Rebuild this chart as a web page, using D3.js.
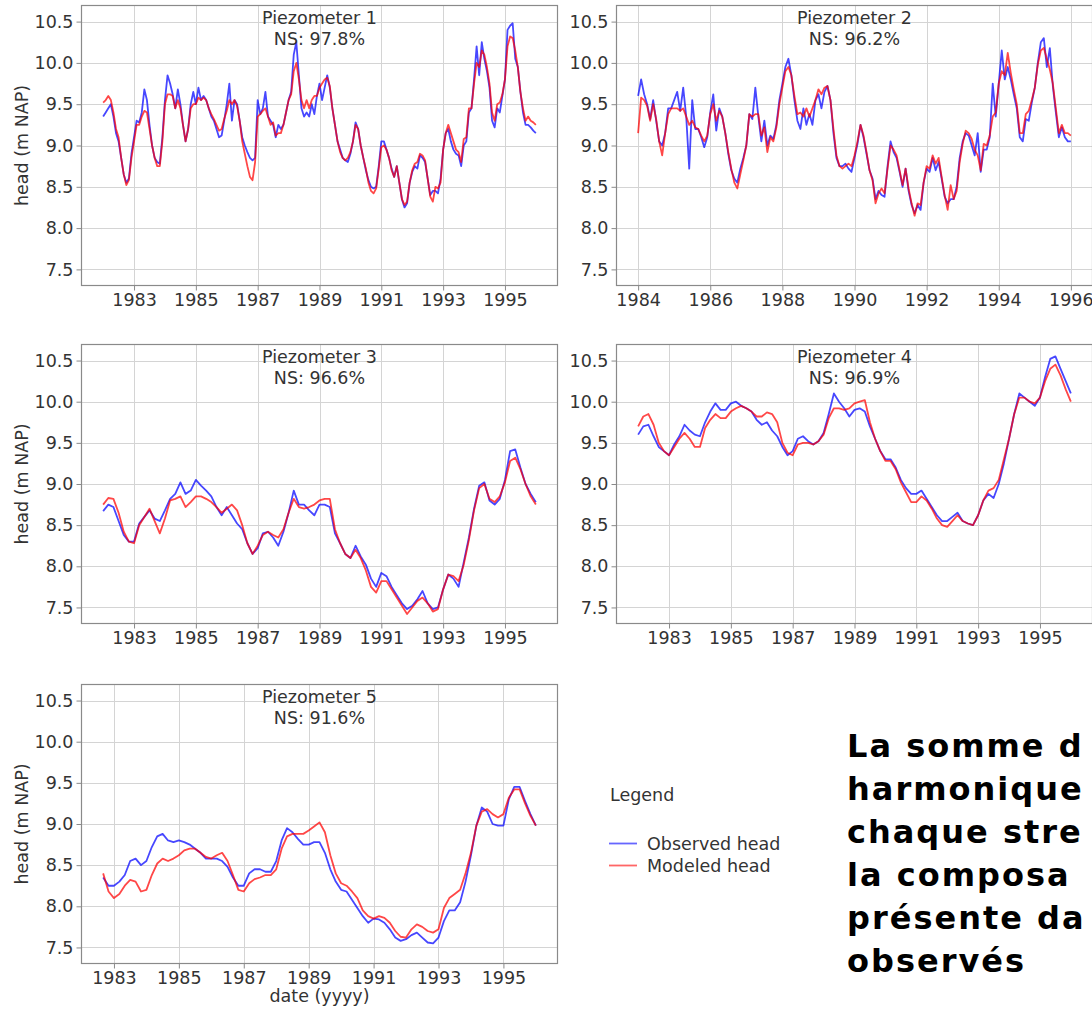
<!DOCTYPE html>
<html>
<head>
<meta charset="utf-8">
<script src="https://cdn.jsdelivr.net/npm/d3@7"></script>
<style>
  html, body { margin: 0; padding: 0; background: #fff; overflow: hidden; }
  svg { display: block; }
  text { font-family: "DejaVu Sans", sans-serif; fill: #333; }
</style>
</head>
<body>
<svg id="chart" width="1092" height="1009"></svg>
<script>
// ---- tick labels ----
const yTicks = [7.5, 8.0, 8.5, 9.0, 9.5, 10.0, 10.5];
const oddYears = [1983, 1985, 1987, 1989, 1991, 1993, 1995];
const evenYears = [1984, 1986, 1988, 1990, 1992, 1994, 1996];

// ---- Piezometer 1: monthly, Jan 1982 .. Jan 1996 ----
const p1Start = 1982, p1Step = 1 / 12;
const p1Obs = [
  9.35, 9.40, 9.45, 9.50, 9.35, 9.15, 9.05, 8.85, 8.65, 8.55, 8.60, 8.90,
  9.10, 9.30, 9.28, 9.40, 9.68, 9.55, 9.25, 9.00, 8.85, 8.80, 8.78, 9.10,
  9.55, 9.85, 9.75, 9.62, 9.45, 9.68, 9.50, 9.25, 9.05, 9.20, 9.50, 9.65,
  9.50, 9.70, 9.55, 9.60, 9.55, 9.45, 9.35, 9.30, 9.20, 9.10, 9.12, 9.30,
  9.50, 9.75, 9.30, 9.55, 9.50, 9.30, 9.10, 9.00, 8.92, 8.85, 8.82, 8.85,
  9.55, 9.38, 9.45, 9.65, 9.35, 9.30, 9.25, 9.10, 9.25, 9.20, 9.25, 9.40,
  9.55, 9.65, 10.10, 10.25, 9.85, 9.45, 9.35, 9.40, 9.35, 9.50, 9.38, 9.60,
  9.75, 9.55, 9.70, 9.85, 9.70, 9.45, 9.25, 9.05, 8.95, 8.85, 8.82, 8.80,
  8.90, 9.05, 9.28, 9.20, 9.00, 8.85, 8.70, 8.58, 8.50, 8.48, 8.50, 8.75,
  9.05, 9.05, 8.95, 8.85, 8.72, 8.62, 8.75, 8.55, 8.35, 8.25, 8.30, 8.55,
  8.68, 8.75, 8.72, 8.88, 8.85, 8.80, 8.60, 8.40, 8.45, 8.45, 8.42, 8.60,
  8.95, 9.15, 9.20, 9.05, 8.95, 8.90, 8.88, 8.75, 9.00, 9.05, 9.40, 9.45,
  9.80, 10.20, 9.85, 10.25, 10.05, 9.90, 9.70, 9.30, 9.22, 9.45, 9.40, 9.60,
  9.80, 10.40, 10.45, 10.48, 10.05, 9.95, 9.65, 9.40, 9.25, 9.25, 9.22, 9.18,
  9.15
];
const p1Mod = [
  9.52, 9.55, 9.60, 9.55, 9.40, 9.20, 9.10, 8.85, 8.65, 8.52, 8.58, 8.85,
  9.05, 9.25, 9.25, 9.35, 9.42, 9.40, 9.20, 9.00, 8.85, 8.75, 8.75, 9.05,
  9.50, 9.62, 9.62, 9.60, 9.45, 9.55, 9.45, 9.25, 9.05, 9.20, 9.45, 9.50,
  9.50, 9.58, 9.55, 9.58, 9.55, 9.45, 9.38, 9.32, 9.25, 9.18, 9.20, 9.32,
  9.42, 9.55, 9.50, 9.55, 9.48, 9.30, 9.05, 8.90, 8.75, 8.62, 8.58, 8.80,
  9.35, 9.38, 9.42, 9.45, 9.35, 9.25, 9.28, 9.12, 9.15, 9.15, 9.25, 9.40,
  9.55, 9.62, 9.90, 10.00, 9.80, 9.55, 9.45, 9.55, 9.45, 9.55, 9.60, 9.60,
  9.70, 9.75, 9.80, 9.82, 9.72, 9.45, 9.25, 9.05, 8.92, 8.85, 8.82, 8.85,
  8.92, 9.05, 9.25, 9.20, 9.00, 8.85, 8.72, 8.55, 8.45, 8.42, 8.48, 8.72,
  8.98, 9.00, 8.95, 8.85, 8.70, 8.62, 8.75, 8.55, 8.35, 8.28, 8.32, 8.55,
  8.70, 8.78, 8.80, 8.90, 8.88, 8.82, 8.60, 8.38, 8.32, 8.50, 8.48, 8.55,
  8.95, 9.15, 9.25, 9.15, 9.05, 8.95, 8.92, 8.80, 9.08, 9.10, 9.45, 9.45,
  9.75, 10.00, 9.95, 10.15, 10.10, 9.95, 9.75, 9.40, 9.30, 9.50, 9.52, 9.62,
  9.80, 10.20, 10.32, 10.30, 10.15, 9.95, 9.65, 9.45, 9.30, 9.35, 9.30, 9.28,
  9.25
];

// ---- Piezometer 2: monthly, Jan 1984 .. Jan 1996 ----
const p2Start = 1984, p2Step = 1 / 12;
const p2Obs = [
  9.60, 9.80, 9.62, 9.50, 9.32, 9.55, 9.30, 9.05, 9.00, 9.15, 9.45, 9.45,
  9.55, 9.65, 9.42, 9.70, 9.35, 8.72, 9.55, 9.20, 9.20, 9.10, 8.98, 9.10,
  9.40, 9.62, 9.18, 9.45, 9.35, 9.15, 8.90, 8.70, 8.60, 8.55, 8.72, 8.85,
  9.00, 9.38, 9.32, 9.70, 9.35, 9.05, 9.30, 9.00, 9.12, 9.08, 9.25, 9.55,
  9.75, 9.95, 10.05, 9.85, 9.55, 9.30, 9.20, 9.45, 9.25, 9.38, 9.25, 9.55,
  9.62, 9.45, 9.65, 9.72, 9.55, 9.15, 8.85, 8.75, 8.75, 8.78, 8.72, 8.68,
  8.85, 9.02, 9.25, 9.10, 8.90, 8.70, 8.60, 8.35, 8.45, 8.40, 8.38, 8.75,
  9.05, 8.92, 8.85, 8.68, 8.50, 8.72, 8.45, 8.28, 8.18, 8.28, 8.22, 8.55,
  8.72, 8.68, 8.85, 8.70, 8.80, 8.60, 8.38, 8.30, 8.35, 8.35, 8.50, 8.85,
  9.05, 9.15, 9.12, 9.00, 8.88, 9.15, 8.68, 8.95, 8.95, 9.10, 9.75, 9.35,
  9.75, 10.15, 9.80, 9.95, 9.80, 9.62, 9.45, 9.10, 9.05, 9.32, 9.30, 9.52,
  9.70, 10.00, 10.25, 10.30, 9.95, 10.18, 9.72, 9.40, 9.10, 9.22, 9.10, 9.05,
  9.05
];
const p2Mod = [
  9.15, 9.58, 9.55, 9.48, 9.30, 9.50, 9.32, 9.05, 8.88, 9.15, 9.38, 9.45,
  9.45, 9.45, 9.42, 9.45, 9.35, 9.25, 9.30, 9.22, 9.20, 9.12, 9.05, 9.12,
  9.38, 9.50, 9.30, 9.42, 9.35, 9.15, 8.92, 8.72, 8.55, 8.48, 8.65, 8.82,
  9.00, 9.38, 9.35, 9.38, 9.38, 9.12, 9.22, 8.92, 9.10, 9.05, 9.22, 9.50,
  9.70, 9.90, 9.95, 9.85, 9.60, 9.38, 9.40, 9.35, 9.45, 9.35, 9.45, 9.55,
  9.68, 9.62, 9.70, 9.72, 9.55, 9.20, 8.88, 8.75, 8.72, 8.75, 8.78, 8.75,
  8.88, 9.05, 9.25, 9.12, 8.92, 8.70, 8.58, 8.30, 8.42, 8.48, 8.42, 8.72,
  9.00, 8.95, 8.88, 8.70, 8.52, 8.72, 8.48, 8.30, 8.15, 8.30, 8.28, 8.55,
  8.75, 8.72, 8.88, 8.78, 8.85, 8.62, 8.40, 8.22, 8.52, 8.35, 8.45, 8.80,
  9.02, 9.18, 9.15, 9.08, 8.95, 8.88, 8.70, 9.02, 9.00, 9.12, 9.35, 9.40,
  9.75, 9.90, 9.85, 10.12, 9.88, 9.68, 9.50, 9.15, 9.15, 9.38, 9.42, 9.55,
  9.70, 9.98, 10.15, 10.18, 10.05, 9.92, 9.75, 9.45, 9.15, 9.25, 9.15, 9.15,
  9.12
];

// ---- Piezometer 3: every two months, Jan 1982 .. Jan 1996 ----
const p3Start = 1982, p3Step = 1 / 6;
const p3Obs = [
  8.67, 8.75, 8.72, 8.55, 8.38, 8.30, 8.30, 8.52, 8.60, 8.68, 8.58, 8.55,
  8.68, 8.82, 8.88, 9.02, 8.88, 8.92, 9.05, 8.98, 8.92, 8.85, 8.72, 8.62,
  8.72, 8.62, 8.52, 8.45, 8.28, 8.15, 8.22, 8.40, 8.42, 8.35, 8.25, 8.42,
  8.65, 8.92, 8.75, 8.75, 8.68, 8.62, 8.75, 8.75, 8.72, 8.40, 8.28, 8.15,
  8.10, 8.25, 8.12, 8.02, 7.85, 7.75, 7.92, 7.88, 7.75, 7.65, 7.55, 7.48,
  7.52, 7.60, 7.70, 7.55, 7.48, 7.50, 7.72, 7.90, 7.85, 7.75, 8.05, 8.35,
  8.70, 8.98, 9.02, 8.80, 8.75, 8.82, 9.05, 9.40, 9.42, 9.20, 9.00, 8.88,
  8.78
];
const p3Mod = [
  8.75, 8.83, 8.82, 8.65, 8.42, 8.30, 8.28, 8.50, 8.60, 8.70, 8.55, 8.40,
  8.58, 8.80, 8.82, 8.85, 8.72, 8.78, 8.85, 8.85, 8.82, 8.78, 8.72, 8.65,
  8.70, 8.75, 8.68, 8.50, 8.28, 8.15, 8.25, 8.38, 8.42, 8.38, 8.35, 8.45,
  8.65, 8.82, 8.72, 8.70, 8.72, 8.75, 8.80, 8.82, 8.82, 8.45, 8.28, 8.15,
  8.10, 8.20, 8.10, 7.95, 7.75, 7.68, 7.82, 7.82, 7.72, 7.62, 7.52, 7.42,
  7.50, 7.58, 7.62, 7.55, 7.45, 7.48, 7.72, 7.90, 7.88, 7.82, 8.02, 8.32,
  8.68, 8.95, 9.00, 8.82, 8.78, 8.85, 9.02, 9.28, 9.32, 9.18, 9.00, 8.85,
  8.75
];

// ---- Piezometer 4: every two months, Jan 1982 .. Jan 1996 ----
const p4Start = 1982, p4Step = 1 / 6;
const p4Obs = [
  9.60, 9.70, 9.72, 9.58, 9.45, 9.40, 9.35, 9.48, 9.58, 9.72, 9.65, 9.60,
  9.58, 9.75, 9.88, 9.98, 9.90, 9.90, 9.98, 10.00, 9.95, 9.92, 9.88, 9.78,
  9.72, 9.75, 9.65, 9.58, 9.45, 9.35, 9.40, 9.55, 9.58, 9.52, 9.48, 9.52,
  9.62, 9.85, 10.10, 10.00, 9.92, 9.82, 9.90, 9.92, 9.88, 9.70, 9.55, 9.40,
  9.30, 9.30, 9.20, 9.05, 8.95, 8.88, 8.88, 8.92, 8.82, 8.72, 8.62, 8.55,
  8.55, 8.60, 8.65, 8.55, 8.52, 8.50, 8.62, 8.80, 8.88, 8.83, 9.00, 9.25,
  9.55, 9.85, 10.10, 10.05, 10.00, 9.95, 10.05, 10.30, 10.52, 10.55, 10.40, 10.25,
  10.10
];
const p4Mod = [
  9.70, 9.82, 9.85, 9.72, 9.50, 9.40, 9.35, 9.45, 9.55, 9.62, 9.55, 9.45,
  9.45, 9.68, 9.78, 9.85, 9.80, 9.80, 9.88, 9.92, 9.95, 9.92, 9.88, 9.82,
  9.82, 9.87, 9.85, 9.75, 9.50, 9.38, 9.35, 9.48, 9.50, 9.50, 9.48, 9.52,
  9.60, 9.80, 9.92, 9.92, 9.90, 9.92, 9.98, 10.00, 10.02, 9.75, 9.55, 9.40,
  9.28, 9.28, 9.18, 9.02, 8.90, 8.78, 8.78, 8.85, 8.80, 8.70, 8.58, 8.50,
  8.48, 8.55, 8.62, 8.55, 8.52, 8.50, 8.62, 8.80, 8.92, 8.95, 9.05, 9.30,
  9.55, 9.85, 10.05, 10.05, 10.00, 9.98, 10.05, 10.25, 10.40, 10.45, 10.32, 10.15,
  10.00
];

// ---- Piezometer 5: every two months, Sep 1982 .. Jan 1996 ----
const p5Start = 1982 + 8 / 12, p5Step = 1 / 6;
const p5Obs = [
  8.35, 8.25, 8.25, 8.30, 8.38, 8.55, 8.58, 8.50, 8.55, 8.72, 8.85, 8.88,
  8.80, 8.78, 8.80, 8.78, 8.75, 8.70, 8.65, 8.58, 8.58, 8.58, 8.55, 8.48,
  8.35, 8.25, 8.25, 8.40, 8.45, 8.45, 8.42, 8.42, 8.55, 8.80, 8.95, 8.90,
  8.82, 8.75, 8.75, 8.78, 8.78, 8.65, 8.45, 8.30, 8.20, 8.18, 8.08, 7.98,
  7.88, 7.80, 7.85, 7.84, 7.80, 7.72, 7.62, 7.58, 7.60, 7.65, 7.68, 7.62,
  7.56, 7.55, 7.62, 7.82, 7.95, 7.95, 8.05, 8.30, 8.62, 8.98, 9.20, 9.15,
  9.00, 8.98, 8.98, 9.30, 9.45, 9.45, 9.28, 9.12, 8.98
];
const p5Mod = [
  8.40, 8.18, 8.10, 8.15, 8.25, 8.32, 8.30, 8.18, 8.20, 8.38, 8.52, 8.58,
  8.55, 8.58, 8.62, 8.68, 8.70, 8.70, 8.65, 8.60, 8.58, 8.62, 8.65, 8.55,
  8.38, 8.20, 8.18, 8.28, 8.33, 8.35, 8.38, 8.38, 8.45, 8.70, 8.85, 8.88,
  8.88, 8.88, 8.92, 8.97, 9.02, 8.90, 8.62, 8.40, 8.28, 8.25, 8.18, 8.10,
  7.95, 7.88, 7.85, 7.88, 7.86, 7.80, 7.70, 7.63, 7.62, 7.72, 7.78, 7.75,
  7.70, 7.68, 7.72, 7.98, 8.10, 8.15, 8.20, 8.40, 8.65, 8.98, 9.15, 9.18,
  9.12, 9.08, 9.12, 9.32, 9.42, 9.42, 9.25, 9.10, 8.98
];

// ---- panel descriptions (built from the arrays above) ----
const panels = [
  { title: "Piezometer 1", ns: "NS: 97.8%", start: p1Start, step: p1Step, obs: p1Obs, mod: p1Mod, ticks: oddYears, col: 0, row: 0 },
  { title: "Piezometer 2", ns: "NS: 96.2%", start: p2Start, step: p2Step, obs: p2Obs, mod: p2Mod, ticks: evenYears, col: 1, row: 0 },
  { title: "Piezometer 3", ns: "NS: 96.6%", start: p3Start, step: p3Step, obs: p3Obs, mod: p3Mod, ticks: oddYears, col: 0, row: 1 },
  { title: "Piezometer 4", ns: "NS: 96.9%", start: p4Start, step: p4Step, obs: p4Obs, mod: p4Mod, ticks: oddYears, col: 1, row: 1 },
  { title: "Piezometer 5", ns: "NS: 91.6%", start: p5Start, step: p5Step, obs: p5Obs, mod: p5Mod, ticks: oddYears, col: 0, row: 2 }
];

const legendItems = [
  { label: "Observed head", color: "#0000ff" },
  { label: "Modeled head", color: "#ff0000" }
];

const noteLines = ["La somme d", "harmonique", "chaque stre", "la composa", "présente da", "observés"];

// ---- layout ----
const cols = [{ x0: 81.5, x1: 557.5 }, { x0: 616.5, x1: 1092.5 }];
const rows = [{ y0: 5.5, y1: 285.5 }, { y0: 344.5, y1: 623.5 }, { y0: 684.5, y1: 963.5 }];
const yDomain = [7.305, 10.695];
const FS = 17.5;

const svg = d3.select("#chart");
svg.append("rect").attr("width", 1092).attr("height", 1009).attr("fill", "#fff");

panels.forEach((p, i) => {
  const c = cols[p.col], r = rows[p.row];
  const series = ["obs", "mod"].map(k => p[k].map((v, j) => ({ t: p.start + j * p.step, v })));
  const tExt = d3.extent(series[0], d => d.t);
  const pad = (tExt[1] - tExt[0]) * 0.05;
  const x = d3.scaleLinear().domain([tExt[0] - pad, tExt[1] + pad]).range([c.x0, c.x1]);
  const y = d3.scaleLinear().domain(yDomain).range([r.y1, r.y0]);

  const g = svg.append("g");

  // grid
  g.append("g").selectAll("line").data(yTicks).join("line")
    .attr("x1", c.x0).attr("x2", c.x1)
    .attr("y1", d => Math.round(y(d)) + 0.5).attr("y2", d => Math.round(y(d)) + 0.5)
    .attr("stroke", "#d4d4d4").attr("stroke-width", 1);
  g.append("g").selectAll("line").data(p.ticks).join("line")
    .attr("y1", r.y0).attr("y2", r.y1)
    .attr("x1", d => Math.round(x(d)) + 0.5).attr("x2", d => Math.round(x(d)) + 0.5)
    .attr("stroke", "#d4d4d4").attr("stroke-width", 1);

  // series
  const clipId = "clip" + i;
  svg.append("clipPath").attr("id", clipId).append("rect")
    .attr("x", c.x0).attr("y", r.y0).attr("width", c.x1 - c.x0).attr("height", r.y1 - r.y0);
  const line = d3.line().x(d => x(d.t)).y(d => y(d.v));
  const lg = g.append("g").attr("clip-path", `url(#${clipId})`);
  series.forEach((s, k) => {
    lg.append("path").datum(s)
      .attr("d", line)
      .attr("fill", "none")
      .attr("stroke", legendItems[k].color)
      .attr("stroke-opacity", 0.72)
      .attr("stroke-width", 1.8)
      .attr("stroke-linejoin", "round");
  });

  // frame
  g.append("rect")
    .attr("x", c.x0).attr("y", r.y0)
    .attr("width", c.x1 - c.x0).attr("height", r.y1 - r.y0)
    .attr("fill", "none").attr("stroke", "#8a8a8a").attr("stroke-width", 1.2);

  // axes
  const yAxis = d3.axisLeft(y).tickValues(yTicks).tickFormat(d3.format(".1f")).tickSize(5).tickPadding(3);
  const xAxis = d3.axisBottom(x).tickValues(p.ticks).tickFormat(d3.format("d")).tickSize(5).tickPadding(3);
  const ya = g.append("g").attr("transform", `translate(${c.x0},0)`).call(yAxis);
  const xa = g.append("g").attr("transform", `translate(0,${r.y1})`).call(xAxis);
  [ya, xa].forEach(a => {
    a.select(".domain").remove();
    a.selectAll(".tick line").attr("stroke", "#8a8a8a");
    a.selectAll(".tick text").attr("font-size", FS).attr("font-family", "DejaVu Sans").attr("fill", "#333");
  });
  xa.selectAll(".tick text").attr("dy", "0.72em");

  // title
  const cx = (c.x0 + c.x1) / 2;
  g.append("text").attr("x", cx).attr("y", r.y0 + 18.5).attr("text-anchor", "middle")
    .attr("font-size", FS).text(p.title);
  g.append("text").attr("x", cx).attr("y", r.y0 + 39).attr("text-anchor", "middle")
    .attr("font-size", FS).text(p.ns);

  // y label on the left column
  if (p.col === 0) {
    g.append("text")
      .attr("transform", `translate(28,${(r.y0 + r.y1) / 2}) rotate(-90)`)
      .attr("text-anchor", "middle").attr("font-size", FS).text("head (m NAP)");
  }
  if (p.row === 2) {
    g.append("text").attr("x", cx).attr("y", 1002).attr("text-anchor", "middle")
      .attr("font-size", FS).text("date (yyyy)");
  }
});

// ---- legend ----
const leg = svg.append("g");
leg.append("text").attr("x", 610).attr("y", 801).attr("font-size", FS).text("Legend");
legendItems.forEach((it, k) => {
  const yy = 843.5 + k * 22;
  leg.append("line").attr("x1", 609).attr("x2", 637).attr("y1", yy).attr("y2", yy)
    .attr("stroke", it.color).attr("stroke-opacity", 0.6).attr("stroke-width", 1.8);
  leg.append("text").attr("x", 647).attr("y", yy + 6).attr("font-size", FS).text(it.label);
});

// ---- note text ----
const note = svg.append("g");
noteLines.forEach((t, k) => {
  note.append("text").attr("x", 847).attr("y", 757 + k * 43)
    .attr("font-size", 32).attr("font-weight", "bold")
    .attr("letter-spacing", "2px")
    .style("fill", "#000")
    .text(t);
});
</script>
</body>
</html>
